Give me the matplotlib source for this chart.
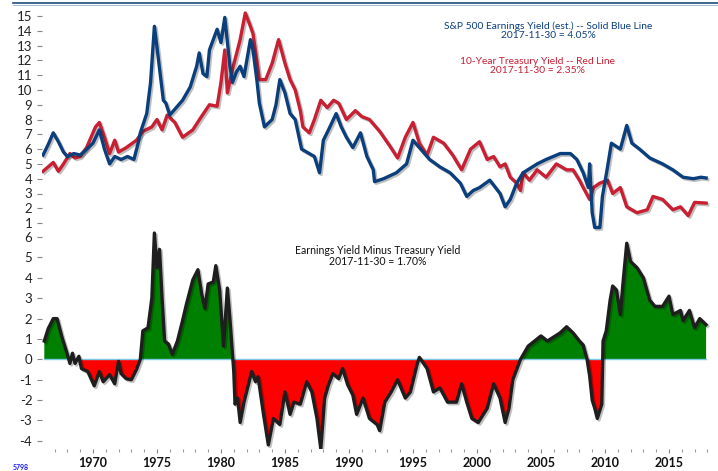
import matplotlib
matplotlib.use("Agg")
import matplotlib.pyplot as plt
import matplotlib.patheffects as pe
from matplotlib.ticker import MultipleLocator
import numpy as np

# ---------------- data ----------------
ey_years = [1966.1, 1966.5, 1966.9, 1967.3, 1967.7, 1968.0, 1968.5, 1969.0, 1969.4, 1970.0,
            1970.5, 1970.9, 1971.3, 1971.7, 1972.2, 1972.7, 1973.2, 1973.5, 1973.7, 1974.2,
            1974.5, 1974.8, 1975.0, 1975.5, 1975.7, 1976.0, 1976.3, 1977.0, 1977.6, 1978.1,
            1978.3, 1978.6, 1978.9, 1979.1, 1979.4, 1979.7, 1980.0, 1980.3, 1980.7, 1980.9,
            1981.2, 1981.5, 1981.8, 1982.3, 1982.5, 1982.8, 1983.0, 1983.4, 1984.0, 1984.3,
            1984.6, 1985.0, 1985.4, 1985.8, 1986.3, 1986.9, 1987.3, 1987.7, 1988.0, 1988.4,
            1989.0, 1989.4, 1989.8, 1990.3, 1990.9, 1991.4, 1991.9, 1992.0, 1992.7, 1993.2,
            1993.7, 1994.5, 1995.0, 1995.5, 1996.3, 1997.1, 1997.9, 1998.7, 1999.2, 1999.7,
            2000.2, 2001.0, 2001.8, 2002.2, 2002.6, 2003.1, 2003.6, 2004.7, 2005.4, 2006.5,
            2007.3, 2007.8, 2008.3, 2008.7, 2008.8, 2009.0, 2009.2, 2009.6, 2009.8, 2010.2,
            2010.5, 2011.2, 2011.7, 2012.1, 2012.7, 2013.5, 2014.5, 2015.3, 2016.1, 2016.9,
            2017.5, 2017.9]
ey_vals = [5.6, 6.3, 7.1, 6.5, 5.8, 5.5, 5.7, 5.6, 5.9, 6.4,
           7.3, 6.0, 5.0, 5.5, 5.3, 5.5, 5.3, 6.3, 7.1, 8.4,
           10.5, 14.3, 12.9, 9.3, 9.1, 8.3, 8.6, 9.3, 10.2, 11.6,
           12.5, 11.1, 10.9, 12.7, 13.4, 14.1, 13.2, 14.9, 11.6, 10.5,
           11.2, 11.6, 10.9, 13.4, 12.7, 10.7, 9.1, 7.5, 8.0, 9.0,
           10.7, 9.8, 8.4, 8.0, 6.0, 5.7, 5.5, 4.4, 6.6, 7.3,
           8.4, 7.5, 6.8, 6.1, 7.1, 5.5, 4.6, 3.8, 4.0, 4.2,
           4.4, 5.0, 6.6, 6.1, 5.3, 4.8, 4.4, 3.7, 2.8, 3.2,
           3.4, 3.9, 3.0, 2.1, 2.6, 3.7, 4.4, 5.0, 5.3, 5.7,
           5.7, 5.3, 4.4, 3.4, 5.0, 1.7, 0.7, 0.7, 2.8, 4.8,
           6.4, 6.0, 7.6, 6.4, 6.0, 5.4, 5.0, 4.6, 4.1, 4.0,
           4.1, 4.05]

ty_years = [1966.1, 1966.5, 1966.9, 1967.3, 1967.7, 1968.2, 1968.6, 1969.0, 1969.5, 1970.2,
            1970.5, 1970.9, 1971.3, 1971.7, 1972.0, 1972.6, 1973.4, 1973.9, 1974.6, 1975.0,
            1975.4, 1975.8, 1976.4, 1977.0, 1977.8, 1978.4, 1979.1, 1979.7, 1980.0, 1980.3,
            1980.5, 1980.9, 1981.5, 1981.9, 1982.3, 1982.5, 1982.8, 1983.0, 1983.5, 1984.0,
            1984.5, 1985.0, 1985.4, 1985.8, 1986.2, 1986.4, 1986.9, 1987.3, 1987.8, 1988.3,
            1988.8, 1989.2, 1989.8, 1990.5, 1991.0, 1991.6, 1992.4, 1993.2, 1993.8, 1994.4,
            1995.0, 1995.5, 1996.1, 1996.6, 1997.4, 1998.1, 1998.8, 1999.5, 2000.2, 2000.8,
            2001.3, 2001.8, 2002.2, 2002.6, 2003.1, 2003.4, 2003.6, 2004.1, 2004.7, 2005.4,
            2006.2, 2007.0, 2007.5, 2008.0, 2008.3, 2008.8, 2009.1, 2009.6, 2010.2, 2010.6,
            2011.2, 2011.7, 2012.5, 2013.3, 2013.75, 2014.5, 2015.3, 2015.9, 2016.5, 2017.0,
            2017.9]
ty_vals = [4.5, 4.8, 5.1, 4.5, 5.0, 5.7, 5.4, 5.5, 6.1, 7.5,
           7.8, 6.8, 5.7, 6.6, 5.8, 6.1, 6.6, 7.2, 7.5, 8.0,
           7.3, 8.3, 7.8, 6.8, 7.3, 8.1, 9.0, 8.9, 10.5, 12.7,
           9.8, 11.4, 13.4, 15.2, 14.3, 13.8, 12.0, 10.7, 10.7, 11.8,
           13.4, 11.8, 10.7, 10.0, 8.6, 7.5, 7.1, 8.0, 9.3, 8.8,
           9.3, 9.1, 8.0, 8.6, 8.2, 8.0, 7.2, 6.2, 5.4, 6.8,
           7.8, 6.4, 5.6, 6.8, 6.4, 5.6, 4.6, 6.0, 6.5, 5.3,
           5.5, 4.8, 5.0, 4.1, 3.7, 3.2, 4.4, 3.9, 4.6, 4.1,
           5.0, 4.6, 4.6, 3.9, 3.4, 2.6, 3.4, 3.7, 3.9, 3.0,
           3.4, 2.1, 1.7, 1.9, 2.8, 2.6, 1.9, 2.1, 1.5, 2.4,
           2.35]

sp_years = [1966.2, 1966.5, 1966.9, 1967.2, 1967.6, 1968.0, 1968.2, 1968.4, 1968.6, 1968.9,
            1969.1, 1969.6, 1970.1, 1970.5, 1970.8, 1971.3, 1971.7, 1972.0, 1972.2, 1972.6,
            1973.0, 1973.4, 1973.7, 1973.9, 1974.3, 1974.6, 1974.8, 1975.0, 1975.2, 1975.4,
            1975.6, 1975.9, 1976.2, 1976.6, 1977.0, 1977.3, 1977.8, 1978.2, 1978.5, 1978.75,
            1979.0, 1979.4, 1979.6, 1979.9, 1980.2, 1980.5, 1980.7, 1981.0, 1981.1, 1981.3,
            1981.5, 1981.8, 1982.4, 1982.7, 1982.9, 1983.3, 1983.7, 1984.1, 1984.6, 1985.0,
            1985.4, 1985.7, 1986.2, 1986.7, 1987.1, 1987.5, 1987.8, 1988.1, 1988.4, 1988.75,
            1989.2, 1989.5, 1989.9, 1990.3, 1990.6, 1991.1, 1991.6, 1992.2, 1992.4, 1992.8,
            1993.3, 1993.8, 1994.4, 1994.8, 1995.3, 1995.5, 1996.1, 1996.6, 1997.1, 1997.7,
            1998.4, 1998.8, 1999.2, 1999.6, 2000.1, 2000.8, 2001.3, 2001.8, 2002.2, 2002.5,
            2002.8, 2003.4, 2004.0, 2004.5, 2005.0, 2005.5, 2006.0, 2006.5, 2007.0, 2007.5,
            2008.0, 2008.3, 2008.6, 2008.8, 2009.0, 2009.2, 2009.4, 2009.75, 2009.85, 2010.1,
            2010.4, 2010.6, 2010.9, 2011.2, 2011.4, 2011.7, 2012.0, 2012.5, 2013.0, 2013.5,
            2013.9, 2014.5, 2015.0, 2015.3, 2015.9, 2016.1, 2016.6, 2017.0, 2017.4, 2017.9]
sp_vals = [0.9, 1.5, 2.0, 2.0, 1.05, 0.25, -0.2, 0.3, -0.2, 0.15,
           -0.45, -0.6, -1.3, -0.6, -1.1, -0.75, -1.2, -0.1, -0.7, -0.95,
           -1.0, -0.5, 0.0, 1.4, 1.55, 3.0, 6.2, 4.5, 5.4, 3.0,
           0.9, 0.75, 0.25, 0.9, 1.9, 2.7, 3.9, 4.4, 3.2, 2.5,
           3.7, 3.8, 4.6, 3.4, 0.65, 3.5, 2.0, -0.6, -2.2, -1.9,
           -3.1, -2.1, -0.6, -1.1, -0.85, -2.6, -4.2, -2.9, -3.2, -1.6,
           -2.7, -2.1, -2.2, -1.1, -1.6, -2.9, -4.4, -1.9, -1.25, -0.7,
           -0.95, -0.45, -1.25, -1.75, -2.7, -1.9, -2.9, -3.2, -3.5, -2.1,
           -1.6, -1.0, -1.9, -1.6, -0.3, 0.1, -0.45, -1.6, -1.4, -2.1,
           -2.1, -1.2, -2.1, -2.9, -3.1, -2.4, -1.2, -1.9, -3.1, -2.4,
           -1.0, 0.0, 0.65, 0.9, 1.15, 0.9, 1.1, 1.3, 1.6, 1.3,
           0.9, 0.7, 0.0, -0.8, -2.0, -2.4, -2.9, -2.2, 0.9, 1.4,
           2.9, 3.6, 3.4, 2.2, 3.7, 5.7, 4.8, 4.5, 4.0, 2.9,
           2.6, 2.6, 3.1, 2.2, 2.4, 1.9, 2.4, 1.55, 2.0, 1.7]

top_ticks = list(range(1, 16))
bot_ticks = list(range(-4, 7))
year_ticks = [1970, 1975, 1980, 1985, 1990, 1995, 2000, 2005, 2010, 2015]

# ---------------- styling ----------------
FONT = ["Lato", "DejaVu Sans"]
plt.rcParams["font.family"] = FONT
BLUE = "#0b3f7c"
RED = "#c81f33"
W, H = 718, 471
fig = plt.figure(figsize=(W / 100, H / 100), dpi=100)

def fr(x0, y0, x1, y1):
    return [x0 / W, 1 - y1 / H, (x1 - x0) / W, (y1 - y0) / H]

XMIN, XMAX = 1966.02, 2018.36
shadow = [pe.SimpleLineShadow(offset=(1.2, -1.2), shadow_color="black", alpha=0.25), pe.Normal()]

# top axes
ax1 = fig.add_axes(fr(42, 5, 712, 237))
ax1.plot(ey_years, ey_vals, color=BLUE, lw=2.4, solid_joinstyle="round", path_effects=shadow, zorder=3)
ax1.plot(ty_years, ty_vals, color=RED, lw=2.4, solid_joinstyle="round", path_effects=shadow, zorder=2)
ax1.set_xlim(XMIN, XMAX)
ax1.set_ylim(0.06, 15.74)
ax1.set_yticks(top_ticks)
ax1.set_xticks([])

# bottom axes
ax2 = fig.add_axes(fr(42, 231, 712, 449))
ax2.patch.set_alpha(0)
sx = np.array(sp_years)
sy = np.array(sp_vals)
ax2.fill_between(sx, 0, sy, where=sy >= 0, interpolate=True, color="#008000", lw=0, zorder=1)
ax2.fill_between(sx, 0, sy, where=sy <= 0, interpolate=True, color="#ff0000", lw=0, zorder=1)
ax2.plot([sx[0], sx[-1]], [0, 0], color="#7cc6e6", lw=1.0, zorder=2)
ax2.plot(sx, sy, color="#1e1e1e", lw=2.4, solid_joinstyle="round", path_effects=shadow, zorder=3)
ax2.set_xlim(XMIN, XMAX)
ax2.set_ylim(-4.4, 6.3)
ax2.set_yticks(bot_ticks)
ax2.set_yticklabels([str(v) for v in bot_ticks])
ax2.set_xticks(year_ticks)
ax2.set_xticklabels([str(y) for y in year_ticks], fontweight="bold", fontsize=9)
ax2.xaxis.set_minor_locator(MultipleLocator(1))

for ax in (ax1, ax2):
    for s in ax.spines.values():
        s.set_visible(False)
    ax.tick_params(axis="y", direction="out", length=3.5, width=0.8, color="#888888",
                   labelsize=9.5, pad=3.5, labelcolor="#222222")
ax2.tick_params(axis="x", which="major", direction="out", length=3, width=0.8, color="#888888",
                pad=2.5, labelcolor="#111111")
ax2.tick_params(axis="x", which="minor", direction="out", length=2, width=0.8, color="#999999")

# annotations
fig.text(548 / W, 1 - 31 / H, "S&P 500 Earnings Yield (est.) -- Solid Blue Line\n2017-11-30 = 4.05%",
         color=BLUE, fontsize=7.4, ha="center", va="center", linespacing=1.05)
fig.text(538 / W, 1 - 66 / H, "10-Year Treasury Yield -- Red Line\n2017-11-30 = 2.35%",
         color=RED, fontsize=7.4, ha="center", va="center", linespacing=1.05)
fig.text(378 / W, 1 - 256 / H, "Earnings Yield Minus Treasury Yield\n2017-11-30 = 1.70%",
         color="#111111", fontsize=7.6, ha="center", va="center", linespacing=1.05)
fig.text(13 / W, 1 - 468 / H, "5798", color="#1a1aff", fontsize=5, fontweight="bold",
         ha="left", va="center")

# top border
fig.add_artist(plt.Line2D([13 / W, 1], [1 - 3 / H, 1 - 3 / H], color="#1f4e79", lw=1.2))
fig.add_artist(plt.Line2D([13 / W, 1], [1 - 4.5 / H, 1 - 4.5 / H], color="#a9bfd6", lw=0.8))

fig.savefig("out.png", dpi=100)
